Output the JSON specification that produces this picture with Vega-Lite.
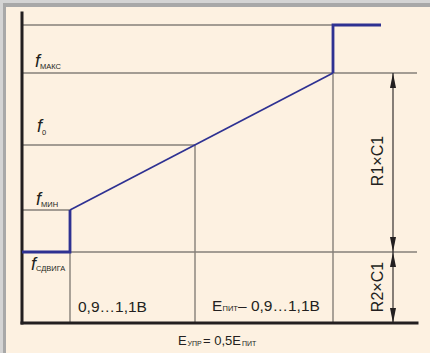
{
  "$schema": "https://vega.github.io/schema/vega-lite/v6.json",
  "width": 430,
  "height": 353,
  "autosize": {"type": "fit", "contains": "padding"},
  "padding": 0,
  "background": "#fdf1e1",
  "config": {
    "view": {"stroke": null},
    "text": {"font": "Liberation Sans, sans-serif", "color": "#231f20"}
  },
  "datasets": {
    "frame": [
      {"part": "outer", "x": -22, "x2": 408, "y": 323, "y2": 320},
      {"part": "outer", "x": -22, "x2": -19, "y": 323, "y2": -30},
      {"part": "inner", "x": -19, "x2": 408, "y": 320, "y2": 316},
      {"part": "inner", "x": -19, "x2": -16, "y": 320, "y2": -30}
    ],
    "guides": [
      {"x": 0, "y": 298, "x2": 311, "y2": 298},
      {"x": 0, "y": 250, "x2": 395, "y2": 250},
      {"x": 0, "y": 178, "x2": 173, "y2": 178},
      {"x": 0, "y": 113, "x2": 48, "y2": 113},
      {"x": 48, "y": 71, "x2": 395, "y2": 71},
      {"x": 48, "y": 113, "x2": 48, "y2": 0},
      {"x": 173, "y": 178, "x2": 173, "y2": 0},
      {"x": 311, "y": 250, "x2": 311, "y2": 0}
    ],
    "axes": [
      {"x": 0, "y": 310, "x2": 0, "y2": 0},
      {"x": 0, "y": 0, "x2": 395, "y2": 0}
    ],
    "dims": [
      {"x": 371, "y": 250, "x2": 371, "y2": 71},
      {"x": 371, "y": 71, "x2": 371, "y2": 0}
    ],
    "heads": [
      {"dir": "up", "x": 371, "y": 242.5},
      {"dir": "down", "x": 371, "y": 78.5},
      {"dir": "up", "x": 371, "y": 63.5},
      {"dir": "down", "x": 371, "y": 7.5}
    ],
    "curve": [
      {"seg": "low", "i": 0, "x": 0, "y": 71},
      {"seg": "low", "i": 1, "x": 48, "y": 71},
      {"seg": "low", "i": 2, "x": 48, "y": 113},
      {"seg": "ramp", "i": 0, "x": 48, "y": 113},
      {"seg": "ramp", "i": 1, "x": 311, "y": 250},
      {"seg": "high", "i": 0, "x": 311, "y": 250},
      {"seg": "high", "i": 1, "x": 311, "y": 298},
      {"seg": "high", "i": 2, "x": 359, "y": 298}
    ],
    "fLetters": [
      {"x": 13, "y": 256, "t": "f"},
      {"x": 15, "y": 191, "t": "f"},
      {"x": 14, "y": 118, "t": "f"},
      {"x": 9, "y": 53, "t": "f"}
    ],
    "fSubs": [
      {"x": 18, "y": 254, "t": "МАКС"},
      {"x": 20, "y": 188, "t": "0"},
      {"x": 19, "y": 116, "t": "МИН"},
      {"x": 14, "y": 52, "t": "СДВИГА"}
    ],
    "bigText": [
      {"x": 56, "y": 11, "t": "0,9…1,1В"},
      {"x": 190, "y": 12, "t": "E"},
      {"x": 216, "y": 12, "t": "– 0,9…1,1В"}
    ],
    "bigSubs": [
      {"x": 200.5, "y": 12, "t": "ПИТ"}
    ],
    "smallText": [
      {"x": 156, "y": -22, "t": "E"},
      {"x": 181, "y": -22, "t": "= 0,5E"}
    ],
    "smallSubs": [
      {"x": 165.5, "y": -23, "t": "УПР"},
      {"x": 220, "y": -23, "t": "ПИТ"}
    ],
    "rotated": [
      {"x": 356, "y": 162, "t": "R1×C1"},
      {"x": 356, "y": 36, "t": "R2×C1"}
    ]
  },
  "encoding": {
    "x": {"field": "x", "type": "quantitative", "axis": null, "scale": {"domain": [-22, 408], "nice": false, "zero": false}},
    "y": {"field": "y", "type": "quantitative", "axis": null, "scale": {"domain": [-30, 323], "nice": false, "zero": false}}
  },
  "layer": [
    {
      "data": {"name": "frame"},
      "transform": [{"filter": "datum.part === 'outer'"}],
      "mark": {"type": "rect", "color": "#d4d4d4"},
      "encoding": {"x2": {"field": "x2"}, "y2": {"field": "y2"}}
    },
    {
      "data": {"name": "frame"},
      "transform": [{"filter": "datum.part === 'inner'"}],
      "mark": {"type": "rect", "color": "#a8a8a8"},
      "encoding": {"x2": {"field": "x2"}, "y2": {"field": "y2"}}
    },
    {
      "data": {"name": "guides"},
      "mark": {"type": "rule", "color": "#857f78", "strokeWidth": 1.4},
      "encoding": {"x2": {"field": "x2"}, "y2": {"field": "y2"}}
    },
    {
      "data": {"name": "dims"},
      "mark": {"type": "rule", "color": "#231f20", "strokeWidth": 1.1},
      "encoding": {"x2": {"field": "x2"}, "y2": {"field": "y2"}}
    },
    {
      "data": {"name": "heads"},
      "transform": [{"filter": "datum.dir === 'up'"}],
      "mark": {"type": "point", "filled": true, "opacity": 1, "color": "#231f20", "size": 225, "shape": "M0,-1L0.4,1L-0.4,1Z"}
    },
    {
      "data": {"name": "heads"},
      "transform": [{"filter": "datum.dir === 'down'"}],
      "mark": {"type": "point", "filled": true, "opacity": 1, "color": "#231f20", "size": 225, "shape": "M0,1L0.4,-1L-0.4,-1Z"}
    },
    {
      "data": {"name": "axes"},
      "mark": {"type": "rule", "color": "#231f20", "strokeWidth": 3, "strokeCap": "square"},
      "encoding": {"x2": {"field": "x2"}, "y2": {"field": "y2"}}
    },
    {
      "data": {"name": "curve"},
      "transform": [{"filter": "datum.seg !== 'ramp'"}],
      "mark": {"type": "line", "color": "#2e3192", "strokeWidth": 2.8, "strokeJoin": "miter"},
      "encoding": {"detail": {"field": "seg"}, "order": {"field": "i"}}
    },
    {
      "data": {"name": "curve"},
      "transform": [{"filter": "datum.seg === 'ramp'"}],
      "mark": {"type": "line", "color": "#2e3192", "strokeWidth": 1.7},
      "encoding": {"order": {"field": "i"}}
    },
    {
      "data": {"name": "fLetters"},
      "mark": {"type": "text", "align": "left", "baseline": "alphabetic", "fontSize": 18, "fontStyle": "italic"},
      "encoding": {"text": {"field": "t"}}
    },
    {
      "data": {"name": "fSubs"},
      "mark": {"type": "text", "align": "left", "baseline": "alphabetic", "fontSize": 7.5},
      "encoding": {"text": {"field": "t"}}
    },
    {
      "data": {"name": "bigText"},
      "mark": {"type": "text", "align": "left", "baseline": "alphabetic", "fontSize": 15.5},
      "encoding": {"text": {"field": "t"}}
    },
    {
      "data": {"name": "bigSubs"},
      "mark": {"type": "text", "align": "left", "baseline": "alphabetic", "fontSize": 7.5},
      "encoding": {"text": {"field": "t"}}
    },
    {
      "data": {"name": "smallText"},
      "mark": {"type": "text", "align": "left", "baseline": "alphabetic", "fontSize": 13},
      "encoding": {"text": {"field": "t"}}
    },
    {
      "data": {"name": "smallSubs"},
      "mark": {"type": "text", "align": "left", "baseline": "alphabetic", "fontSize": 7},
      "encoding": {"text": {"field": "t"}}
    },
    {
      "data": {"name": "rotated"},
      "mark": {"type": "text", "align": "center", "baseline": "middle", "angle": 270, "fontSize": 16},
      "encoding": {"text": {"field": "t"}}
    }
  ]
}
